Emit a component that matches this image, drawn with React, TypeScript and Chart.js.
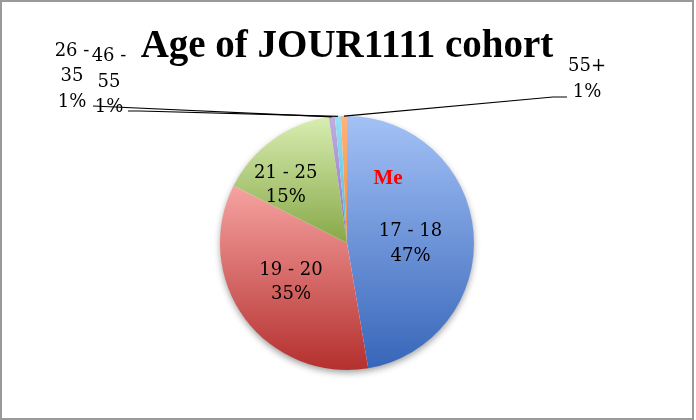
import React, { useEffect, useRef } from "react";
import { Chart, registerables } from "chart.js";

Chart.register(...registerables);

const TITLE = "Age of JOUR1111 cohort";
const categories = ["17 - 18", "19 - 20", "21 - 25", "26 - 35", "46 - 55", "55+"];
const counts = [62, 46, 20, 1, 1, 1];
const topColors = ["#a3c1f6", "#f6a3a1", "#d8edb0", "#c0aedf", "#9adff4", "#fdb47a"];
const bottomColors = ["#3766b9", "#b4302e", "#87a848", "#8a72b8", "#4cb6da", "#f08a3a"];

// inner label placement: radius fraction and angle offset (deg) relative to slice middle
const innerFrac = [0.5, 0.533, 0.67];
const innerAngleOffset = [4.3, 2.2, -10.3];
// outer label anchors (text centre x, first line centre y) and leader line start points
const outerAnchors = [
  { x: 72, y: 50, lx: [93, 93], ly: [106, 106] },
  { x: 109, y: 55.5, lx: [128, 140], ly: [111, 111] },
  { x: 587, y: 65.5, lx: [567, 553], ly: [97, 97] },
];

const SERIF = "'DejaVu Serif', 'Liberation Serif', serif";

const total = counts.reduce((a, b) => a + b, 0);
const pct = counts.map((v) => Math.round((v / total) * 100) + "%");

const piePlugin = {
  id: "pieDecor",
  beforeDraw(chart: any) {
    const ctx = chart.ctx;
    ctx.save();
    ctx.fillStyle = "#ffffff";
    ctx.fillRect(0, 0, chart.width, chart.height);
    ctx.strokeStyle = "#9a9a9a";
    ctx.lineWidth = 2;
    ctx.strokeRect(1, 1, chart.width - 4, chart.height - 2);
    ctx.restore();
  },
  beforeDatasetsDraw(chart: any) {
    const ctx = chart.ctx;
    const meta = chart.getDatasetMeta(0);
    if (!meta.data.length) return;
    const a0 = meta.data[0];
    ctx.save();
    ctx.shadowColor = "rgba(0,0,0,0.4)";
    ctx.shadowBlur = 7;
    ctx.shadowOffsetY = 3;
    ctx.fillStyle = "#ffffff";
    ctx.beginPath();
    ctx.arc(a0.x, a0.y, a0.outerRadius - 0.5, 0, Math.PI * 2);
    ctx.fill();
    ctx.restore();
    meta.data.forEach((arc: any, i: number) => {
      let minY = arc.y;
      let maxY = arc.y;
      const n = 60;
      for (let k = 0; k <= n; k++) {
        const a = arc.startAngle + ((arc.endAngle - arc.startAngle) * k) / n;
        const y = arc.y + arc.outerRadius * Math.sin(a);
        minY = Math.min(minY, y);
        maxY = Math.max(maxY, y);
      }
      if (maxY - minY < 1) maxY = minY + 1;
      const g = ctx.createLinearGradient(0, minY, 0, maxY);
      g.addColorStop(0, topColors[i]);
      g.addColorStop(1, bottomColors[i]);
      arc.options.backgroundColor = g;
    });
  },
  afterDatasetsDraw(chart: any) {
    const ctx = chart.ctx;
    const meta = chart.getDatasetMeta(0);
    ctx.save();
    ctx.fillStyle = "#000000";
    ctx.textAlign = "center";
    ctx.textBaseline = "middle";
    ctx.font = `18px ${SERIF}`;
    const lh = 24.5;
    meta.data.forEach((arc: any, i: number) => {
      const mid = (arc.startAngle + arc.endAngle) / 2;
      if (i < 3) {
        const a = mid + (innerAngleOffset[i] * Math.PI) / 180;
        const r = arc.outerRadius * innerFrac[i];
        const cx = arc.x + r * Math.cos(a);
        const cy = arc.y + r * Math.sin(a) + 1.5;
        ctx.fillText(categories[i], cx, cy - lh / 2);
        ctx.fillText(pct[i], cx, cy + lh / 2);
      } else {
        const an = outerAnchors[i - 3];
        const lines = categories[i].includes(" - ")
          ? [categories[i].split(" - ")[0] + " -", categories[i].split(" - ")[1], pct[i]]
          : [categories[i], pct[i]];
        const olh = 25.5;
        lines.forEach((t, k) => ctx.fillText(t, an.x, an.y + 1 + k * olh));
        const ex = arc.x + arc.outerRadius * Math.cos(mid);
        const ey = arc.y + arc.outerRadius * Math.sin(mid);
        ctx.strokeStyle = "#000000";
        ctx.lineWidth = 1.2;
        ctx.beginPath();
        ctx.moveTo(an.lx[0], an.ly[0]);
        ctx.lineTo(an.lx[1], an.ly[1]);
        ctx.lineTo(ex, ey);
        ctx.stroke();
      }
    });
    // "Me" annotation inside the 17 - 18 slice
    const b = meta.data[0];
    const bm = (b.startAngle + b.endAngle) / 2 - 0.918;
    ctx.fillStyle = "#ff0000";
    ctx.font = `bold 21px 'Liberation Serif', serif`;
    ctx.fillText("Me", b.x + b.outerRadius * 0.6 * Math.cos(bm), b.y + b.outerRadius * 0.6 * Math.sin(bm));
    ctx.restore();
  },
};

export default function App() {
  const ref = useRef<HTMLCanvasElement | null>(null);
  useEffect(() => {
    if (!ref.current) return;
    const chart = new Chart(ref.current, {
      type: "pie",
      data: {
        labels: categories,
        datasets: [
          {
            data: counts,
            backgroundColor: topColors,
            borderWidth: 0,
          },
        ],
      },
      options: {
        responsive: false,
        animation: false,
        layout: { padding: { top: 0, left: 0, right: 2, bottom: 50 } },
        plugins: {
          legend: { display: false },
          tooltip: { enabled: false },
          title: {
            display: true,
            text: TITLE,
            color: "#000000",
            font: { family: "'Liberation Serif', serif", size: 39, weight: "bold", lineHeight: 1.2 },
            padding: { top: 23.6, bottom: 45.6 },
          },
        },
      },
      plugins: [piePlugin],
    });
    return () => chart.destroy();
  }, []);
  return (
    <div style={{ position: "absolute", left: 0, top: 0, width: 696, height: 420 }}>
      <canvas ref={ref} width={696} height={420} style={{ display: "block" }} />
    </div>
  );
}
